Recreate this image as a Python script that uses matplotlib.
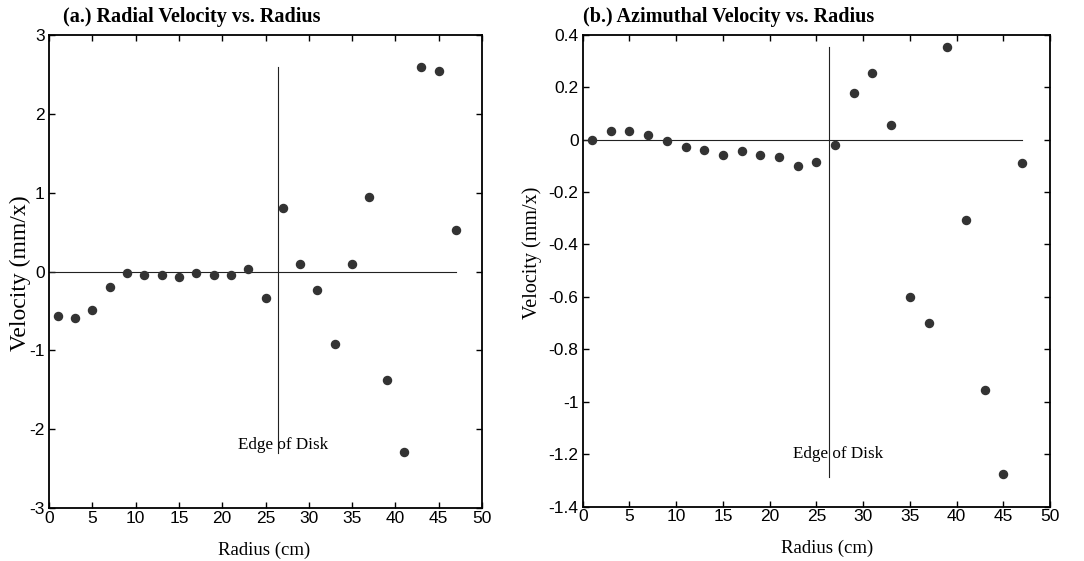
"""Radial and azimuthal velocity vs radius, two panels."""
import matplotlib
matplotlib.use("Agg")
import matplotlib.pyplot as plt
from matplotlib.ticker import FuncFormatter

DOT = "#333333"

plt.rcParams.update({
    "font.family": "Liberation Sans",
    "axes.unicode_minus": False,
    "xtick.direction": "in",
    "ytick.direction": "in",
    "xtick.top": True,
    "ytick.right": True,
})

# data
radius = [1, 3, 5, 7, 9, 11, 13, 15, 17, 19, 21, 23,
          25, 27, 29, 31, 33, 35, 37, 39, 41, 43, 45, 47]
radial_vel = [-0.56, -0.59, -0.49, -0.20, -0.02, -0.05, -0.05, -0.07, -0.02, -0.05, -0.05, 0.03,
              -0.33, 0.81, 0.10, -0.23, -0.92, 0.10, 0.94, -1.38, -2.29, 2.59, 2.54, 0.53]
azimuthal_vel = [0.0, 0.033, 0.033, 0.017, -0.007, -0.03, -0.038, -0.059, -0.045, -0.059, -0.068, -0.099,
                 -0.085, -0.022, 0.178, 0.255, 0.054, -0.60, -0.70, 0.355, -0.307, -0.954, -1.277, -0.091]

edge_r = 26.4
x_ticks = list(range(0, 55, 5))
radial_ticks = [-3, -2, -1, 0, 1, 2, 3]
azim_ticks = [-1.4, -1.2, -1.0, -0.8, -0.6, -0.4, -0.2, 0.0, 0.2, 0.4]

W, H = 1084, 561
fig = plt.figure(figsize=(W / 100, H / 100), dpi=100)


def fmt(v, _):
    return f"{v:g}" if abs(v) > 1e-9 else "0"


def panel(rect, y, yticks, ylim, edge_span, title, title_xy, text_xy,
          ylab_xy, ylab_size, xlab_xy):
    ax = fig.add_axes([rect[0] / W, 1 - rect[3] / H, (rect[2] - rect[0]) / W, (rect[3] - rect[1]) / H])
    ax.plot(radius, y, "o", color=DOT, markersize=5.8, zorder=3)
    ax.plot([0, 47], [0, 0], color="#222222", lw=0.8)
    ax.plot([edge_r, edge_r], edge_span, color="#222222", lw=0.8)
    ax.text(text_xy[0], text_xy[1], "Edge of Disk", family="Liberation Serif",
            fontsize=12.3, va="center", ha="left")
    ax.set_xlim(0, 50)
    ax.set_ylim(*ylim)
    ax.set_xticks(x_ticks)
    ax.set_yticks(yticks)
    ax.xaxis.set_major_formatter(FuncFormatter(fmt))
    ax.yaxis.set_major_formatter(FuncFormatter(fmt))
    ax.tick_params(labelsize=12.5, length=4, width=1, pad=3)
    ax.tick_params(axis="x", pad=2)
    for s in ax.spines.values():
        s.set_linewidth(1.3)
    ax.set_ylabel("Velocity (mm/x)", family="Liberation Serif", fontsize=ylab_size, va="center")
    ax.yaxis.set_label_coords(*ylab_xy)
    ax.set_xlabel("Radius (cm)", family="Liberation Serif", fontsize=13.5, va="center")
    ax.xaxis.set_label_coords(*xlab_xy)
    fig.text(title_xy[0] / W, 1 - title_xy[1] / H, title, family="Liberation Serif",
             fontsize=14.5, fontweight="bold", va="center", ha="left")
    return ax


panel((49, 35, 482, 508), radial_vel, radial_ticks, (-3, 3), [-2.3, 2.6],
      "(a.) Radial Velocity vs. Radius", (63, 17), (21.8, -2.2),
      (-0.067, 0.497), 17, (0.497, -0.09))
panel((582.7, 34.7, 1050, 506.7), azimuthal_vel, azim_ticks, (-1.4, 0.4), [-1.287, 0.353],
      "(b.) Azimuthal Velocity vs. Radius", (583, 17), (22.5, -1.2),
      (-0.1085, 0.5375), 14.5, (0.523, -0.088))

fig.savefig("out.png", dpi=100)
